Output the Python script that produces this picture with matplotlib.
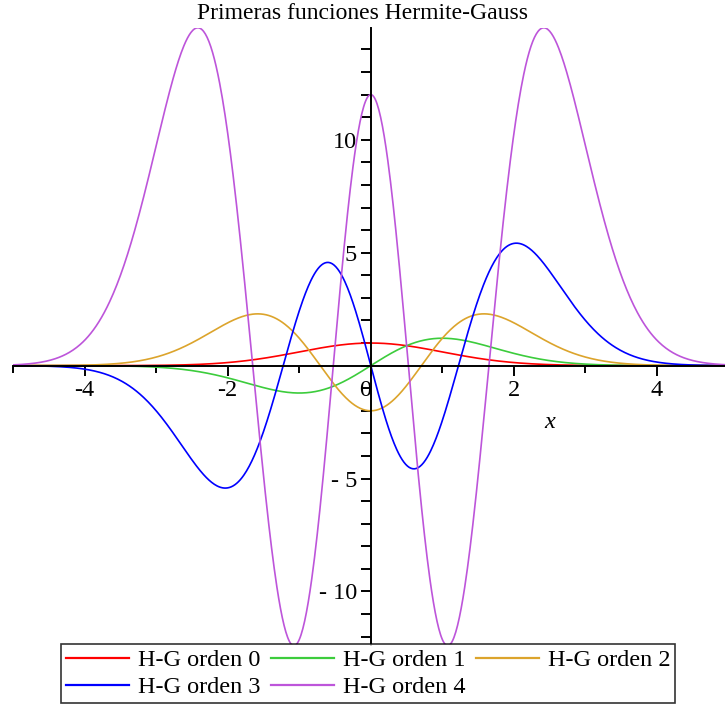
import numpy as np
import matplotlib
matplotlib.use('Agg')
import matplotlib.pyplot as plt
import matplotlib.transforms as mtransforms
from matplotlib.ticker import MultipleLocator

plt.rcParams['font.family'] = ['Liberation Serif', 'DejaVu Serif']
plt.rcParams['axes.unicode_minus'] = False

# Hermite polynomial coefficients, ascending powers of x (physicists' H_n)
h0 = [1]
h1 = [0, 2]
h2 = [-2, 0, 4]
h3 = [0, -12, 0, 8]
h4 = [12, 0, -48, 0, 16]
orders = [h0, h1, h2, h3, h4]
names = ['H-G orden 0', 'H-G orden 1', 'H-G orden 2', 'H-G orden 3', 'H-G orden 4']
colors = ['#ff0000', '#3ccc3c', '#dca42c', '#0000ff', '#bd55da']

xticks = [-4, -2, 0, 2, 4]
xtick_labels = ['-4', '-2', '0', '2', '4']
yticks = [-10, -5, 5, 10]
ytick_labels = ['- 10', '- 5', '5', '10']

x = np.linspace(-5, 5, 801)

fig = plt.figure(figsize=(7.25, 7.09), dpi=100)
ax = fig.add_axes([0.018, 0.0903, 0.982, 0.8702])

lines = []
for coef, name, col in zip(orders, names, colors):
    y = np.polynomial.polynomial.polyval(x, coef) * np.exp(-x**2 / 2)
    ln, = ax.plot(x, y, color=col, lw=1.2, label=name)
    lines.append(ln)

ax.set_xlim(-5, 4.95)
ax.set_ylim(-12.37, 14.95)

# axes cross at the origin, Maple style
for side in ['top', 'right']:
    ax.spines[side].set_visible(False)
ax.spines['left'].set_position(('data', 0))
ax.spines['bottom'].set_position(('data', 0))
ax.spines['left'].set_linewidth(1.4)
ax.spines['bottom'].set_linewidth(1.4)

ax.set_xticks(xticks)
ax.set_xticklabels(xtick_labels)
ax.set_yticks(yticks)
ax.set_yticklabels(ytick_labels)
ax.xaxis.set_minor_locator(MultipleLocator(1))
ax.yaxis.set_minor_locator(MultipleLocator(1))
ax.tick_params(axis='x', which='major', direction='out', length=7, width=1.4,
               labelsize=17.5, pad=3)
ax.tick_params(axis='x', which='minor', direction='out', length=5, width=1.4)
ax.tick_params(axis='y', which='both', direction='out', length=7, width=1.4,
               labelsize=17.5, pad=3)

# nudge the origin label off the vertical axis
for lbl in ax.get_xticklabels():
    if lbl.get_text() == '0':
        lbl.set_transform(lbl.get_transform() +
                          mtransforms.ScaledTranslation(-6 / 100, 0, fig.dpi_scale_trans))

ax.text(2.5, -2.5, 'x', fontsize=17.5, style='italic', ha='center', va='center')

fig.suptitle('Primeras funciones Hermite-Gauss', y=0.996, va='top', fontsize=17)

# legend filled row by row: reorder for matplotlib's column-major layout
order = [0, 3, 1, 4, 2]
leg = fig.legend([lines[i] for i in order], [names[i] for i in order],
                 loc='upper center', bbox_to_anchor=(0.508, 0.091), ncol=3,
                 fontsize=17.5, frameon=True, fancybox=False, edgecolor='black',
                 handlelength=2.6, handletextpad=0.35, columnspacing=0.45,
                 borderpad=0.2, labelspacing=0.2, borderaxespad=0)
leg.get_frame().set_linewidth(1.2)
for h in leg.legend_handles:
    h.set_linewidth(1.6)

fig.savefig('out.png', dpi=100)
